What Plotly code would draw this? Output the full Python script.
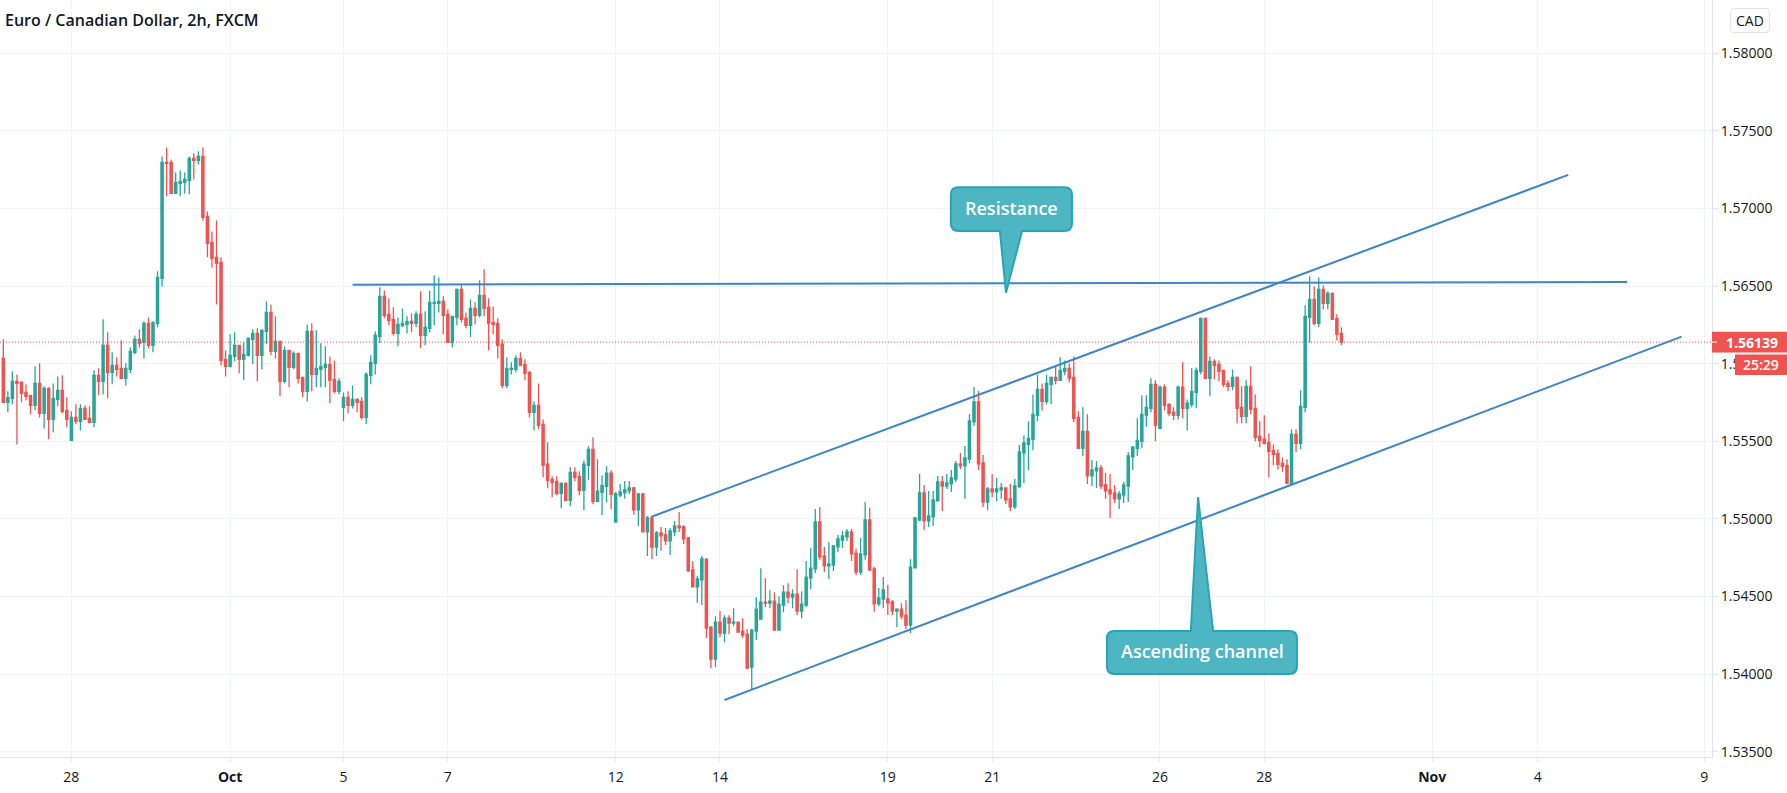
import plotly.graph_objects as go

title_text = "Euro / Canadian Dollar, 2h, FXCM"
currency = "CAD"
last_price = 1.56139
countdown = "25:29"

opens = [
1.56034,1.55751,1.55777,1.55886,1.55880,1.55815,1.55796,1.55732,1.55873,1.55680,
1.55841,1.55641,1.55770,1.55828,1.55699,1.55506,1.55654,1.55629,1.55712,1.55648,
1.55622,1.55925,1.55886,1.56118,1.55944,1.55989,1.55970,1.55906,1.55964,1.56073,
1.56157,1.56137,1.56260,1.56118,1.56260,1.56550,1.57297,1.57297,1.57097,1.57162,
1.57168,1.57181,1.57323,1.57310,1.57335,1.56949,1.56781,1.56685,1.56653,1.56028,
1.55983,1.56047,1.56118,1.56028,1.56054,1.56157,1.56195,1.56054,1.56208,1.56330,
1.56079,1.56144,1.55886,1.56086,1.55976,1.56067,1.55912,1.55822,1.56208,1.55931,
1.55964,1.55976,1.55996,1.55899,1.55822,1.55719,1.55783,1.55732,1.55770,1.55757,
1.55654,1.55925,1.56002,1.56176,1.56434,1.56318,1.56286,1.56195,1.56247,1.56253,
1.56273,1.56260,1.56318,1.56182,1.56228,1.56389,1.56389,1.56401,1.56318,1.56137,
1.56298,1.56479,1.56292,1.56247,1.56356,1.56311,1.56440,1.56363,1.56266,1.56260,
1.56125,1.55860,1.55964,1.55964,1.56034,1.55996,1.55944,1.55687,1.55732,1.55609,
1.55352,1.55255,1.55242,1.55165,1.55229,1.55120,1.55300,1.55274,1.55184,1.55345,
1.55448,1.55113,1.55171,1.55210,1.55294,1.54980,1.55154,1.55168,1.55181,1.55200,
1.55058,1.55161,1.54916,1.55006,1.54819,1.54910,1.54897,1.54858,1.54916,1.54955,
1.54948,1.54877,1.54671,1.54562,1.54607,1.54740,1.54302,1.54096,1.54335,1.54264,
1.54360,1.54328,1.54335,1.54277,1.54257,1.54045,1.54277,1.54354,1.54464,1.54457,
1.54470,1.54283,1.54444,1.54528,1.54496,1.54515,1.54406,1.54444,1.54618,1.54678,
1.54980,1.54761,1.54697,1.54703,1.54820,1.54864,1.54884,1.54916,1.54780,1.54658,
1.54768,1.54993,1.54678,1.54452,1.54484,1.54484,1.54465,1.54406,1.54418,1.54380,
1.54315,1.54684,1.54993,1.55167,1.54987,1.55013,1.55116,1.55238,1.55212,1.55225,
1.55257,1.55354,1.55341,1.55386,1.55625,1.55753,1.55360,1.55109,1.55193,1.55174,
1.55187,1.55200,1.55129,1.55077,1.55206,1.55425,1.55480,1.55513,1.55667,1.55835,
1.55757,1.55867,1.55912,1.55893,1.55951,1.55970,1.55912,1.55654,1.55455,1.55564,
1.55277,1.55309,1.55328,1.55219,1.55187,1.55167,1.55129,1.55154,1.55212,1.55399,
1.55455,1.55500,1.55668,1.55712,1.55867,1.55583,1.55848,1.55738,1.55687,1.55667,
1.55848,1.55712,1.55738,1.55815,1.55951,1.56292,1.55906,1.56015,1.55996,1.55957,
1.55873,1.55854,1.55912,1.55719,1.55661,1.55854,1.55712,1.55532,1.55513,1.55493,
1.55442,1.55422,1.55358,1.55345,1.55229,1.55545,1.55487,1.55719,1.56298,1.56414,
1.56260,1.56479,1.56389,1.56453,1.56292,1.56195]

closes = [
1.55751,1.55781,1.55886,1.55873,1.55809,1.55790,1.55732,1.55873,1.55680,1.55841,
1.55641,1.55777,1.55828,1.55693,1.55641,1.55654,1.55629,1.55712,1.55641,1.55622,
1.55925,1.55886,1.56118,1.55944,1.55989,1.55964,1.55906,1.55970,1.56079,1.56157,
1.56131,1.56260,1.56118,1.56266,1.56556,1.57297,1.57290,1.57097,1.57168,1.57174,
1.57187,1.57323,1.57310,1.57335,1.56943,1.56775,1.56678,1.56646,1.56021,1.55983,
1.56054,1.56118,1.56028,1.56060,1.56163,1.56195,1.56054,1.56215,1.56330,1.56079,
1.56144,1.55886,1.56086,1.55976,1.56067,1.55906,1.55822,1.56208,1.55931,1.55970,
1.55983,1.55996,1.55893,1.55822,1.55886,1.55783,1.55732,1.55770,1.55751,1.55654,
1.55931,1.56009,1.56182,1.56434,1.56311,1.56279,1.56195,1.56253,1.56260,1.56273,
1.56260,1.56318,1.56182,1.56234,1.56395,1.56395,1.56401,1.56311,1.56137,1.56305,
1.56479,1.56286,1.56247,1.56356,1.56311,1.56440,1.56356,1.56260,1.56253,1.56118,
1.55860,1.55970,1.55970,1.56034,1.55989,1.55938,1.55687,1.55732,1.55603,1.55345,
1.55249,1.55236,1.55165,1.55229,1.55120,1.55300,1.55268,1.55184,1.55352,1.55448,
1.55113,1.55178,1.55216,1.55294,1.55158,1.55161,1.55174,1.55187,1.55200,1.55058,
1.55161,1.54916,1.55006,1.54819,1.54910,1.54890,1.54858,1.54922,1.54955,1.54942,
1.54871,1.54665,1.54562,1.54613,1.54742,1.54296,1.54096,1.54335,1.54264,1.54360,
1.54328,1.54335,1.54270,1.54251,1.54038,1.54283,1.54418,1.54464,1.54457,1.54470,
1.54283,1.54451,1.54528,1.54496,1.54515,1.54406,1.54451,1.54625,1.54682,1.54980,
1.54755,1.54697,1.54710,1.54826,1.54871,1.54890,1.54916,1.54774,1.54658,1.54774,
1.54993,1.54671,1.54452,1.54491,1.54542,1.54459,1.54407,1.54418,1.54373,1.54315,
1.54689,1.55006,1.55167,1.54987,1.55019,1.55122,1.55238,1.55212,1.55232,1.55264,
1.55354,1.55341,1.55393,1.55631,1.55753,1.55354,1.55109,1.55193,1.55174,1.55193,
1.55200,1.55122,1.55077,1.55212,1.55431,1.55489,1.55519,1.55674,1.55835,1.55757,
1.55873,1.55912,1.55893,1.55957,1.55970,1.55906,1.55648,1.55455,1.55564,1.55277,
1.55315,1.55328,1.55212,1.55180,1.55161,1.55129,1.55161,1.55219,1.55406,1.55463,
1.55506,1.55674,1.55719,1.55867,1.55603,1.55848,1.55732,1.55680,1.55667,1.55848,
1.55712,1.55745,1.55820,1.55957,1.56292,1.55906,1.56015,1.55989,1.55951,1.55867,
1.55854,1.55912,1.55712,1.55661,1.55854,1.55706,1.55526,1.55506,1.55487,1.55435,
1.55416,1.55352,1.55339,1.55229,1.55545,1.55487,1.55725,1.56305,1.56414,1.56260,
1.56479,1.56389,1.56453,1.56286,1.56189,1.56139]

highs = [
1.56157,1.55822,1.55951,1.55929,1.55886,1.55867,1.55796,1.55983,1.56002,1.55854,
1.55848,1.55873,1.55918,1.55925,1.55783,1.55693,1.55738,1.55738,1.55732,1.55725,
1.55957,1.55970,1.56286,1.56202,1.56073,1.56041,1.56150,1.56002,1.56105,1.56182,
1.56221,1.56273,1.56298,1.56273,1.56595,1.57335,1.57393,1.57316,1.57232,1.57245,
1.57232,1.57335,1.57355,1.57368,1.57393,1.56981,1.56852,1.56923,1.56685,1.56086,
1.56189,1.56202,1.56118,1.56137,1.56170,1.56221,1.56228,1.56221,1.56401,1.56382,
1.56305,1.56144,1.56112,1.56086,1.56079,1.56067,1.55918,1.56253,1.56260,1.56215,
1.56131,1.56112,1.56047,1.56021,1.55906,1.55815,1.55822,1.55860,1.55777,1.55783,
1.55944,1.56054,1.56208,1.56492,1.56472,1.56421,1.56363,1.56298,1.56356,1.56305,
1.56324,1.56337,1.56466,1.56337,1.56472,1.56569,1.56556,1.56434,1.56350,1.56305,
1.56485,1.56505,1.56330,1.56414,1.56395,1.56537,1.56608,1.56421,1.56369,1.56292,
1.56157,1.56041,1.56009,1.56054,1.56073,1.56028,1.55951,1.55757,1.55873,1.55641,
1.55493,1.55274,1.55274,1.55236,1.55236,1.55332,1.55332,1.55307,1.55377,1.55468,
1.55526,1.55384,1.55281,1.55339,1.55313,1.55174,1.55225,1.55244,1.55244,1.55206,
1.55167,1.55167,1.55019,1.55019,1.54922,1.54948,1.54942,1.54942,1.54987,1.55045,
1.54961,1.54884,1.54729,1.54633,1.54761,1.54747,1.54309,1.54373,1.54406,1.54380,
1.54380,1.54425,1.54335,1.54360,1.54290,1.54290,1.54496,1.54682,1.54618,1.54541,
1.54528,1.54502,1.54573,1.54586,1.54547,1.54676,1.54534,1.54728,1.54811,1.55064,
1.55077,1.54819,1.54849,1.54832,1.54897,1.54922,1.54935,1.54935,1.54807,1.54877,
1.55109,1.55071,1.54691,1.54555,1.54626,1.54575,1.54478,1.54425,1.54457,1.54476,
1.54740,1.55013,1.55290,1.55219,1.55180,1.55180,1.55277,1.55277,1.55290,1.55315,
1.55373,1.55425,1.55470,1.55676,1.55850,1.55824,1.55412,1.55206,1.55290,1.55264,
1.55232,1.55200,1.55225,1.55257,1.55476,1.55538,1.55629,1.55802,1.55931,1.55873,
1.55931,1.55918,1.55989,1.56041,1.56021,1.56002,1.56047,1.55693,1.55719,1.55674,
1.55380,1.55373,1.55348,1.55296,1.55290,1.55219,1.55180,1.55238,1.55431,1.55470,
1.55648,1.55796,1.55796,1.55906,1.55893,1.55860,1.55867,1.55745,1.55719,1.55860,
1.56009,1.55770,1.55970,1.55976,1.56298,1.56292,1.56047,1.56028,1.56021,1.55963,
1.55893,1.55963,1.55918,1.55854,1.55893,1.55983,1.55802,1.55629,1.55667,1.55551,
1.55480,1.55448,1.55397,1.55384,1.55577,1.55577,1.55828,1.56376,1.56563,1.56498,
1.56556,1.56505,1.56466,1.56459,1.56318,1.56234]

lows = [
1.55751,1.55687,1.55738,1.55480,1.55751,1.55764,1.55674,1.55700,1.55654,1.55583,
1.55513,1.55558,1.55725,1.55680,1.55590,1.55506,1.55610,1.55570,1.55640,1.55616,
1.55590,1.55796,1.55802,1.55777,1.55867,1.55918,1.55906,1.55860,1.55938,1.56060,
1.56105,1.56034,1.56097,1.56073,1.56234,1.56498,1.57078,1.57097,1.57097,1.57078,
1.57097,1.57091,1.57187,1.57284,1.56923,1.56685,1.56620,1.56382,1.55989,1.55918,
1.55976,1.56015,1.55938,1.55893,1.56047,1.55996,1.55886,1.55964,1.56125,1.56054,
1.56034,1.55790,1.55873,1.55848,1.55964,1.55873,1.55783,1.55757,1.55822,1.55848,
1.55848,1.55848,1.55745,1.55809,1.55802,1.55629,1.55680,1.55712,1.55687,1.55641,
1.55609,1.55867,1.55931,1.56131,1.56292,1.56247,1.56182,1.56112,1.56234,1.56195,
1.56202,1.56234,1.56099,1.56118,1.56202,1.56247,1.56330,1.56189,1.56137,1.56105,
1.56247,1.56266,1.56228,1.56170,1.56253,1.56298,1.56305,1.56086,1.56189,1.56034,
1.55841,1.55841,1.55931,1.55944,1.55989,1.55893,1.55654,1.55570,1.55577,1.55268,
1.55197,1.55139,1.55152,1.55068,1.55113,1.55081,1.55242,1.55152,1.55055,1.55249,
1.55094,1.55107,1.55023,1.55107,1.55062,1.54980,1.55141,1.55130,1.55161,1.55026,
1.54955,1.54916,1.54761,1.54742,1.54761,1.54794,1.54832,1.54768,1.54890,1.54916,
1.54839,1.54658,1.54562,1.54459,1.54446,1.54232,1.54038,1.54045,1.54238,1.54206,
1.54257,1.54309,1.54270,1.54232,1.54032,1.53897,1.54219,1.54354,1.54431,1.54425,
1.54283,1.54283,1.54399,1.54457,1.54425,1.54380,1.54360,1.54431,1.54547,1.54652,
1.54736,1.54658,1.54613,1.54665,1.54787,1.54813,1.54858,1.54729,1.54639,1.54639,
1.54736,1.54665,1.54401,1.54439,1.54426,1.54381,1.54381,1.54302,1.54354,1.54290,
1.54264,1.54684,1.54987,1.54929,1.54948,1.54955,1.55116,1.55051,1.55193,1.55174,
1.55238,1.55322,1.55129,1.55360,1.55599,1.55315,1.55077,1.55058,1.55141,1.55116,
1.55129,1.55096,1.55051,1.55064,1.55200,1.55232,1.55313,1.55442,1.55629,1.55699,
1.55738,1.55738,1.55867,1.55893,1.55925,1.55880,1.55622,1.55455,1.55403,1.55225,
1.55212,1.55199,1.55193,1.55129,1.55006,1.55103,1.55064,1.55103,1.55109,1.55315,
1.55406,1.55455,1.55594,1.55687,1.55500,1.55577,1.55699,1.55661,1.55635,1.55641,
1.55648,1.55570,1.55719,1.55713,1.55931,1.55906,1.55790,1.55899,1.55886,1.55848,
1.55822,1.55828,1.55616,1.55616,1.55616,1.55674,1.55500,1.55461,1.55480,1.55268,
1.55345,1.55319,1.55300,1.55223,1.55229,1.55429,1.55448,1.55687,1.56137,1.56247,
1.56234,1.56350,1.56350,1.56286,1.56150,1.56118]

bars = list(range(len(opens)))

# x axis: bar index of each date label
tick_bars = [15, 50, 75, 98, 135, 158, 195, 218, 255, 278, 315, 338.3, 375]
tick_text = ["28", "<b>Oct</b>", "5", "7", "12", "14", "19", "21", "26", "28", "<b>Nov</b>", "4", "9"]
price_ticks = [1.535, 1.54, 1.545, 1.55, 1.555, 1.56, 1.565, 1.57, 1.575, 1.58]

# drawings, in (bar, price)
channel_upper = [(142.9, 1.55014), (345.0, 1.57216)]
channel_lower = [(159.0, 1.53833), (370.0, 1.56174)]
resistance = [(77.0, 1.56509), (358.0, 1.56526)]

UP, DOWN = "#26a69a", "#ef5350"
LINE = "#3d85c6"
GRID = "#f0f3fa"
AXIS = "#e0e3eb"
TEXT = "#131722"
FILL = "rgb(78,182,194)"
EDGE = "rgb(38,166,180)"
FONT = "Open Sans"
W, H = 1787, 793
ML, MR, MT, MB = 0, 75, 0, 36
PW, PH = W - ML - MR, H - MT - MB


def callout(left, right, top, bottom, base0, base1, tip, side):
    rx, ry = 1.7, 0.00048
    s = f"M {left + rx} {top} "
    if side == "top":
        s += f"L {base0} {top} L {tip[0]} {tip[1]} L {base1} {top} "
    s += f"L {right - rx} {top} Q {right} {top} {right} {top - ry} "
    s += f"L {right} {bottom + ry} Q {right} {bottom} {right - rx} {bottom} "
    if side == "bottom":
        s += f"L {base1} {bottom} L {tip[0]} {tip[1]} L {base0} {bottom} "
    s += f"L {left + rx} {bottom} Q {left} {bottom} {left} {bottom + ry} "
    s += f"L {left} {top - ry} Q {left} {top} {left + rx} {top} Z"
    return dict(type="path", path=s, xref="x", yref="y", fillcolor=FILL,
                line=dict(color=EDGE, width=2), layer="above")


def segment(p):
    return dict(type="line", xref="x", yref="y", x0=p[0][0], y0=p[0][1], x1=p[1][0], y1=p[1][1],
                line=dict(color=LINE, width=2), layer="above")


shapes = [
    dict(type="line", xref="paper", yref="y", x0=0, x1=1, y0=last_price, y1=last_price,
         line=dict(color=DOWN, width=1, dash="1px,2px"), layer="above"),
    segment(channel_upper), segment(channel_lower), segment(resistance),
    callout(208.9, 235.6, 1.57137, 1.56855, 219.7, 224.6, (221.05, 1.56457), "bottom"),
    callout(243.3, 285.2, 1.54278, 1.54001, 261.8, 266.7, (263.4, 1.55141), "top"),
    # price label and countdown on the axis
    dict(type="rect", xref="paper", yref="y", x0=1, x1=1 + MR / PW, y0=last_price - 0.00067, y1=last_price + 0.00067,
         fillcolor=DOWN, line=dict(width=0), layer="above"),
    dict(type="line", xref="paper", yref="y", x0=1, x1=1 + 5 / PW, y0=last_price, y1=last_price,
         line=dict(color="white", width=1), layer="above"),
    dict(type="rect", xref="paper", yref="y", x0=1 + 23 / PW, x1=1 + MR / PW, y0=1.55927, y1=1.56059,
         fillcolor=DOWN, line=dict(width=0), layer="above"),
    # currency button
    dict(type="path", xref="paper", yref="paper",
         path=" ".join([
             f"M {1734/PW} {1-8.5/PH}", f"L {1766/PW} {1-8.5/PH}", f"Q {1769.5/PW} {1-8.5/PH} {1769.5/PW} {1-12/PH}",
             f"L {1769.5/PW} {1-29/PH}", f"Q {1769.5/PW} {1-32.5/PH} {1766/PW} {1-32.5/PH}",
             f"L {1734/PW} {1-32.5/PH}", f"Q {1730.5/PW} {1-32.5/PH} {1730.5/PW} {1-29/PH}",
             f"L {1730.5/PW} {1-12/PH}", f"Q {1730.5/PW} {1-8.5/PH} {1734/PW} {1-8.5/PH} Z"]),
         fillcolor="white", line=dict(color=AXIS, width=1), layer="above"),
]

annotations = [
    dict(text=title_text, xref="paper", yref="paper", x=3 / PW, y=1 - 20 / PH, xanchor="left", yanchor="middle",
         showarrow=False, font=dict(family=FONT, size=16, color=TEXT, weight=600)),
    dict(text="Resistance", xref="x", yref="y", x=222.2, y=1.57003, xanchor="center", yanchor="middle", showarrow=False,
         font=dict(family=FONT, size=18, color="white", weight=600)),
    dict(text="Ascending channel", xref="x", yref="y", x=264.3, y=1.54147, xanchor="center", yanchor="middle", showarrow=False,
         font=dict(family=FONT, size=18, color="white", weight=600)),
    dict(text=f"{last_price:.5f}", xref="paper", yref="y", x=1 + 12 / PW, y=last_price, xanchor="left", yanchor="middle", showarrow=False,
         font=dict(family=FONT, size=14, color="white", weight=700)),
    dict(text=countdown, xref="paper", yref="y", x=1 + 49 / PW, y=1.55993, xanchor="center", yanchor="middle", showarrow=False,
         font=dict(family=FONT, size=14, color="white", weight=600)),
    dict(text=currency, xref="paper", yref="paper", x=1750 / PW, y=1 - 20.5 / PH, xanchor="center", yanchor="middle", showarrow=False,
         font=dict(family=FONT, size=14, color=TEXT)),
]

fig = go.Figure(go.Candlestick(
    x=bars, open=opens, high=highs, low=lows, close=closes,
    increasing=dict(line=dict(color=UP, width=1.3), fillcolor=UP),
    decreasing=dict(line=dict(color=DOWN, width=1.3), fillcolor=DOWN),
    whiskerwidth=0, hoverinfo="skip", showlegend=False,
))

fig.update_layout(
    width=W, height=H, autosize=False,
    margin=dict(l=ML, r=MR, t=MT, b=MB, pad=0),
    paper_bgcolor="white", plot_bgcolor="white",
    showlegend=False, boxgap=0.3,
    shapes=shapes, annotations=annotations,
    font=dict(family=FONT, size=14, color=TEXT),
    xaxis=dict(range=[-0.73, 376.7], rangeslider=dict(visible=False),
               tickmode="array", tickvals=tick_bars, ticktext=tick_text,
               showgrid=True, gridcolor=GRID, gridwidth=1, zeroline=False,
               showline=True, linecolor=AXIS, linewidth=1, ticks="outside", ticklen=4, tickcolor=AXIS,
               ticklabelstandoff=3,
               tickfont=dict(family=FONT, size=14, color=TEXT), tickangle=0),
    yaxis=dict(range=[1.53466, 1.58343], side="right",
               tickmode="array", tickvals=price_ticks, ticktext=[f"{v:.5f}" for v in price_ticks],
               showgrid=True, gridcolor=GRID, gridwidth=1, zeroline=False,
               showline=True, linecolor=AXIS, linewidth=1, ticks="outside", ticklen=5, tickcolor=AXIS,
               tickfont=dict(family=FONT, size=14, color=TEXT)),
)

fig.write_html("out.html", config=dict(displayModeBar=False),
               post_script="document.body.style.margin='0';document.documentElement.style.overflow='hidden';")
